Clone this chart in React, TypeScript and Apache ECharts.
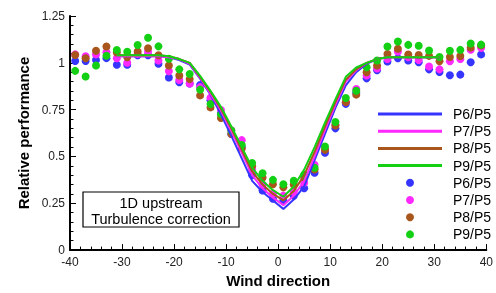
import React, { useEffect, useRef } from "react";
import * as echarts from "echarts";

// Model curves (lines)
const lineX = [-31, -29, -27, -25, -23, -21, -19, -17, -15, -13, -11, -9, -7, -5, -3, -1, 1, 3, 5, 7, 9, 11, 13, 15, 17, 19, 21, 23, 25, 27, 29, 31];
const p6Line = [1.035, 1.035, 1.035, 1.035, 1.035, 1.03, 1.015, 0.99, 0.915, 0.83, 0.725, 0.61, 0.49, 0.37, 0.31, 0.265, 0.22, 0.27, 0.34, 0.48, 0.62, 0.76, 0.88, 0.95, 0.995, 1.02, 1.03, 1.03, 1.03, 1.03, 1.03, 1.03];
const p7Line = [1.035, 1.035, 1.035, 1.035, 1.035, 1.03, 1.02, 0.995, 0.92, 0.835, 0.745, 0.635, 0.52, 0.4, 0.33, 0.28, 0.24, 0.29, 0.37, 0.5, 0.64, 0.775, 0.9, 0.96, 1.0, 1.02, 1.03, 1.03, 1.03, 1.03, 1.03, 1.03];
const p8Line = [1.04, 1.04, 1.04, 1.04, 1.04, 1.035, 1.02, 1.0, 0.925, 0.845, 0.755, 0.65, 0.535, 0.42, 0.35, 0.3, 0.265, 0.315, 0.4, 0.525, 0.66, 0.79, 0.91, 0.965, 1.0, 1.02, 1.03, 1.03, 1.03, 1.03, 1.03, 1.03];
const p9Line = [1.04, 1.04, 1.04, 1.04, 1.04, 1.035, 1.02, 1.0, 0.93, 0.85, 0.765, 0.66, 0.55, 0.44, 0.37, 0.32, 0.285, 0.34, 0.43, 0.55, 0.68, 0.805, 0.925, 0.975, 1.0, 1.02, 1.03, 1.03, 1.03, 1.03, 1.03, 1.03];

// Measured points
const ptX = [-39, -37, -35, -33, -31, -29, -27, -25, -23, -21, -19, -17, -15, -13, -11, -9, -7, -5, -3, -1, 1, 3, 5, 7, 9, 11, 13, 15, 17, 19, 21, 23, 25, 27, 29, 31, 33, 35, 37, 39];
const p6Pts = [1.01, 1.01, 1.015, 1.025, 0.99, 0.99, 1.04, 1.04, 0.995, 0.922, 0.896, 0.89, 0.882, 0.8, 0.73, 0.62, 0.55, 0.4, 0.318, 0.274, 0.266, 0.29, 0.33, 0.413, 0.52, 0.65, 0.781, 0.84, 0.917, 0.96, 1.007, 1.024, 1.012, 1.003, 0.965, 0.951, 0.934, 0.937, 1.003, 1.045];
const p7Pts = [1.045, 1.035, 1.045, 1.056, 1.024, 1.0, 1.047, 1.061, 1.012, 0.955, 0.908, 0.89, 0.87, 0.814, 0.748, 0.64, 0.587, 0.43, 0.35, 0.3, 0.29, 0.31, 0.36, 0.456, 0.54, 0.67, 0.79, 0.86, 0.932, 0.97, 1.02, 1.06, 1.03, 1.015, 0.98, 0.965, 1.008, 1.02, 1.07, 1.08];
const p8Pts = [1.042, 1.024, 1.064, 1.087, 1.055, 1.03, 1.061, 1.078, 1.04, 0.986, 0.932, 0.913, 0.826, 0.762, 0.705, 0.62, 0.543, 0.448, 0.387, 0.352, 0.335, 0.35, 0.387, 0.43, 0.535, 0.665, 0.79, 0.83, 0.95, 0.986, 1.047, 1.075, 1.044, 1.042, 1.037, 1.008, 1.031, 1.036, 1.081, 1.093];
const p9Pts = [0.957, 0.927, 0.986, 1.038, 1.068, 1.059, 1.095, 1.134, 1.088, 1.022, 0.965, 0.94, 0.857, 0.78, 0.726, 0.639, 0.561, 0.465, 0.41, 0.375, 0.352, 0.37, 0.402, 0.44, 0.553, 0.684, 0.8125, 0.851, 0.976, 1.012, 1.087, 1.114, 1.096, 1.091, 1.066, 1.031, 1.064, 1.069, 1.103, 1.097];

const names = ["P6/P5", "P7/P5", "P8/P5", "P9/P5"];
const colors = ["#3535ff", "#ff28ff", "#a8561c", "#14d014"];
const PTS = " (pts)";
const noteLines = ["1D upstream", "Turbulence correction"];

const FONT = "'Liberation Sans', Arial, sans-serif";

export default function App() {
  const ref = useRef<HTMLDivElement>(null);
  useEffect(() => {
    if (!ref.current) return;
    const chart = echarts.init(ref.current, null, { renderer: "svg" });
    const lines = [p6Line, p7Line, p8Line, p9Line];
    const pts = [p6Pts, p7Pts, p8Pts, p9Pts];
    const series: any[] = [];
    lines.forEach((ys, i) => {
      series.push({
        type: "line",
        name: names[i],
        data: lineX.map((x, j) => [x, ys[j]]),
        symbol: "none",
        showSymbol: false,
        lineStyle: { color: colors[i], width: 2 },
        itemStyle: { color: colors[i] },
      });
    });
    pts.forEach((ys, i) => {
      series.push({
        type: "scatter",
        name: names[i] + PTS,
        data: ptX.map((x, j) => [x, ys[j]]),
        symbol: "circle",
        symbolSize: 8,
        itemStyle: { color: colors[i], opacity: 1 },
      });
    });
    chart.setOption({
      animation: false,
      grid: { left: 70, right: 6, top: 16, bottom: 37, containLabel: false },
      xAxis: {
        type: "value",
        min: -40,
        max: 40,
        interval: 10,
        name: "Wind direction",
        nameLocation: "middle",
        nameGap: 20,
        nameTextStyle: { fontFamily: FONT, fontWeight: "bold", fontSize: 15, color: "#000" },
        axisLine: { show: true, onZero: false, lineStyle: { color: "#000", width: 2 } },
        axisTick: { show: true, inside: true, length: 6, lineStyle: { color: "#000", width: 1 } },
        minorTick: { show: true, splitNumber: 5, length: 3.5, lineStyle: { color: "#000", width: 1 } },
        axisLabel: { fontFamily: FONT, fontSize: 12, color: "#222", margin: 6 },
        splitLine: { show: false },
      },
      yAxis: {
        type: "value",
        min: 0,
        max: 1.25,
        interval: 0.25,
        name: "Relative performance",
        nameLocation: "middle",
        nameGap: 37,
        nameTextStyle: { fontFamily: FONT, fontWeight: "bold", fontSize: 15, color: "#000" },
        axisLine: { show: true, onZero: false, lineStyle: { color: "#000", width: 2 } },
        axisTick: { show: true, inside: true, length: 6, lineStyle: { color: "#000", width: 1 } },
        minorTick: { show: true, splitNumber: 5, length: 3.5, lineStyle: { color: "#000", width: 1 } },
        axisLabel: { fontFamily: FONT, fontSize: 12, color: "#222", margin: 5 },
        splitLine: { show: false },
      },
      legend: {
        orient: "vertical",
        left: 378,
        top: 107,
        padding: 0,
        itemWidth: 64,
        itemHeight: 8,
        itemGap: 3.2,
        selectedMode: false,
        symbolKeepAspect: true,
        formatter: (n: string) => n.replace(PTS, ""),
        textStyle: { fontFamily: FONT, fontSize: 14, color: "#000", lineHeight: 14, padding: [0, 0, 0, 6] },
        data: [
          ...names.map((n) => ({ name: n, icon: "path://M0,0H64V3H0Z" })),
          ...names.map((n) => ({ name: n + PTS, icon: "circle" })),
        ],
      },
      graphic: [
        {
          type: "rect",
          shape: { x: 83, y: 192, width: 156, height: 35 },
          style: { fill: "#fff", stroke: "#000", lineWidth: 1.2 },
          z: 10,
        },
        ...noteLines.map((t, i) => ({
          type: "text",
          x: 161,
          y: i === 0 ? 202.5 : 219,
          z: 11,
          style: {
            text: t,
            font: `14.5px ${FONT}`,
            fill: "#000",
            align: "center",
            verticalAlign: "middle",
          },
        })),
      ],
      series,
    });
    return () => chart.dispose();
  }, []);
  return <div ref={ref} style={{ position: "fixed", left: 0, top: 0, width: 496, height: 293 }} />;
}
